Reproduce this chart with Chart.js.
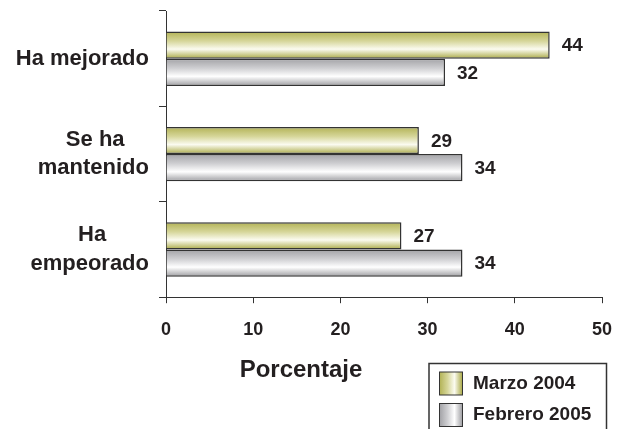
<!DOCTYPE html>
<html>
<head>
<meta charset="utf-8">
<title>Porcentaje</title>
<script src="https://cdn.jsdelivr.net/npm/chart.js@4.4.1/dist/chart.umd.min.js"></script>
<style>
  html, body { margin: 0; padding: 0; background: #fff; }
  canvas { display: block; }
</style>
</head>
<body>
<canvas id="chart" width="617" height="429"></canvas>
<script>
// data
const categories = [['Ha mejorado'], ['Se ha', 'mantenido'], ['Ha', 'empeorado']];
const seriesNames = ['Marzo 2004', 'Febrero 2005'];
const marzo2004 = [44, 29, 27];
const febrero2005 = [32, 34, 34];
const xTicks = [0, 10, 20, 30, 40, 50];

const FONT = '"Liberation Sans", Arial, Helvetica, sans-serif';
const INK = '#231f20';
const CATEGORY_PCT = 0.57;

const oliveStops = [[0, '#b2b255'], [0.35, '#d6d69a'], [0.65, '#fbfbf0'], [1, '#a9a945']];
const grayStops = [[0, '#a2a2a6'], [0.35, '#cfcfd2'], [0.65, '#ffffff'], [1, '#9d9da1']];

// multi-line labels are right aligned but the short line sits centred over the long one
const measureCtx = document.createElement('canvas').getContext('2d');
measureCtx.font = 'bold 22px ' + FONT;
function centerLines(lines) {
  const widths = lines.map(l => measureCtx.measureText(l).width);
  const widest = Math.max(...widths);
  const space = measureCtx.measureText(' ').width;
  return lines.map((l, i) => l + ' '.repeat(Math.round((widest - widths[i]) / 2 / space)));
}

function barGradient(stops) {
  return (ctx) => {
    const yScale = ctx.chart.scales.y;
    if (ctx.type !== 'data' || !yScale) return stops[2][1];
    const band = yScale.height / categories.length * CATEGORY_PCT;
    const top = yScale.getPixelForValue(ctx.dataIndex) - band / 2 + ctx.datasetIndex * band / 2;
    if (!Number.isFinite(top) || !Number.isFinite(band) || band <= 0) return stops[2][1];
    const g = ctx.chart.ctx.createLinearGradient(0, top, 0, top + band / 2);
    stops.forEach(([o, c]) => g.addColorStop(o, c));
    return g;
  };
}

// keep the plot area where the original has it
function noLabelPadding(scale) {
  scale.paddingTop = 0;
  scale.paddingBottom = 0;
  scale.paddingLeft = 0;
  scale.paddingRight = 0;
}

const valueLabels = {
  id: 'valueLabels',
  afterDatasetsDraw(chart) {
    const { ctx } = chart;
    ctx.save();
    ctx.font = 'bold 19px ' + FONT;
    ctx.fillStyle = INK;
    ctx.textBaseline = 'middle';
    chart.data.datasets.forEach((ds, i) => {
      chart.getDatasetMeta(i).data.forEach((bar, j) => {
        ctx.fillText(ds.data[j], bar.x + 12, bar.y + 1);
      });
    });
    ctx.restore();
  }
};

// boxed legend below the axis, bottom right, running off the page like the original
const boxLegend = {
  id: 'boxLegend',
  afterDraw(chart) {
    const { ctx } = chart;
    const stops = [oliveStops, grayStops];
    ctx.save();
    ctx.strokeStyle = '#333';
    ctx.lineWidth = 1.5;
    ctx.strokeRect(429, 363.5, 177.5, 90);
    ctx.font = 'bold 19px ' + FONT;
    ctx.textBaseline = 'middle';
    chart.data.datasets.forEach((ds, i) => {
      const x = 439.5, y = 372 + i * 31.5, w = 23, h = 23;
      const g = ctx.createLinearGradient(x, 0, x + w, 0);
      stops[i].forEach(([o, c]) => g.addColorStop(o, c));
      ctx.fillStyle = g;
      ctx.fillRect(x, y, w, h);
      ctx.lineWidth = 1;
      ctx.strokeStyle = '#333';
      ctx.strokeRect(x, y, w, h);
      ctx.fillStyle = INK;
      ctx.fillText(ds.label, 473, y + h / 2);
    });
    ctx.restore();
  }
};

new Chart(document.getElementById('chart'), {
  type: 'bar',
  data: {
    labels: categories.map(c => c.join(' ')),
    datasets: [
      {
        label: seriesNames[0],
        data: marzo2004,
        backgroundColor: barGradient(oliveStops),
        borderColor: '#333',
        borderWidth: 1.5,
        borderSkipped: 'start',
      },
      {
        label: seriesNames[1],
        data: febrero2005,
        backgroundColor: barGradient(grayStops),
        borderColor: '#333',
        borderWidth: 1.5,
        borderSkipped: 'start',
      },
    ],
  },
  options: {
    indexAxis: 'y',
    responsive: false,
    animation: false,
    categoryPercentage: CATEGORY_PCT,
    barPercentage: 1,
    layout: { padding: { top: 11, right: 15, left: 0, bottom: 0 } },
    plugins: {
      legend: { display: false },
      tooltip: { enabled: false },
      title: {
        display: true,
        text: 'Porcentaje',
        position: 'bottom',
        color: INK,
        font: { family: FONT, size: 24, weight: 'bold', lineHeight: 1.2 },
        padding: { top: 9, bottom: 44 },
      },
    },
    scales: {
      x: {
        min: 0,
        max: 50,
        afterBuildTicks: (scale) => { scale.ticks = xTicks.map(v => ({ value: v })); },
        afterFit: (scale) => { scale.height = 50; noLabelPadding(scale); },
        grid: { drawOnChartArea: false, tickLength: 6, color: '#333' },
        border: { color: '#333', width: 1 },
        ticks: {
          color: INK,
          padding: 16,
          font: { family: FONT, size: 18, weight: 'bold' },
        },
      },
      y: {
        afterFit: (scale) => { scale.width = 166; noLabelPadding(scale); },
        grid: { drawOnChartArea: false, tickLength: 7, color: '#333', offset: true },
        border: { color: '#333', width: 1 },
        ticks: {
          color: INK,
          padding: 10,
          crossAlign: 'near',
          font: { family: FONT, size: 22, weight: 'bold', lineHeight: 1.3 },
          callback: (value, index) => centerLines(categories[index]),
        },
      },
    },
  },
  plugins: [valueLabels, boxLegend],
});
</script>
</body>
</html>
